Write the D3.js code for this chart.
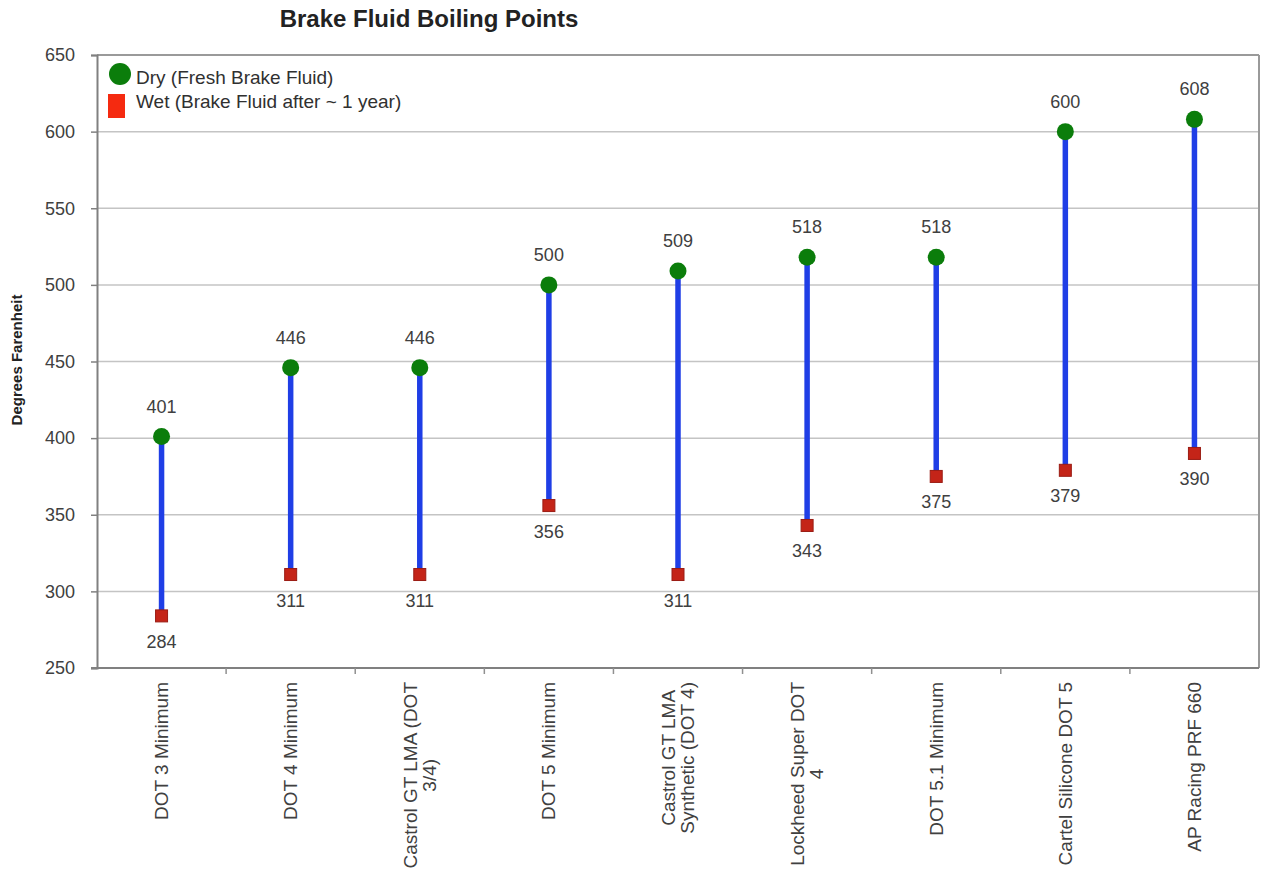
<!DOCTYPE html>
<html><head><meta charset="utf-8">
<script src="https://cdn.jsdelivr.net/npm/d3@7"></script>
<style>body{margin:0;background:#fff;} text{font-family:"Liberation Sans",Arial,sans-serif;}</style>
</head><body>
<svg id="chart" width="1261" height="873"></svg>
<script>
const categories = [
  ["DOT 3 Minimum"],
  ["DOT 4 Minimum"],
  ["Castrol GT LMA (DOT", "3/4)"],
  ["DOT 5 Minimum"],
  ["Castrol GT LMA", "Synthetic (DOT 4)"],
  ["Lockheed Super DOT", "4"],
  ["DOT 5.1 Minimum"],
  ["Cartel Silicone DOT 5"],
  ["AP Racing PRF 660"]
];
const dryValues = [401, 446, 446, 500, 509, 518, 518, 600, 608];
const wetValues = [284, 311, 311, 356, 311, 343, 375, 379, 390];
const yTicks = [250, 300, 350, 400, 450, 500, 550, 600, 650];
const titleText = "Brake Fluid Boiling Points";
const yLabel = "Degrees Farenheit";
const legendLabels = ["Dry (Fresh Brake Fluid)", "Wet (Brake Fluid after ~ 1 year)"];

const svg = d3.select("#chart");
const L = 97, R = 1259, T = 55, B = 668;
const keys = categories.map((c, i) => i);
const x = d3.scaleBand().domain(keys).range([L, R]).padding(0);
const y = d3.scaleLinear().domain([250, 650]).range([B, T]);

// grid
svg.append("g").selectAll("line").data(yTicks.filter(t => t > 250 && t < 650)).join("line")
  .attr("x1", L).attr("x2", R).attr("y1", d => y(d)).attr("y2", d => y(d))
  .attr("stroke", "#c4c4c4").attr("stroke-width", 1.5);

// frame top and right
svg.append("line").attr("x1", L).attr("x2", R).attr("y1", T).attr("y2", T).attr("stroke", "#9a9a9a").attr("stroke-width", 2);
svg.append("line").attr("x1", R).attr("x2", R).attr("y1", T).attr("y2", B).attr("stroke", "#9a9a9a").attr("stroke-width", 2);

// y axis
const yAxis = d3.axisLeft(y).tickValues(yTicks).tickSize(6).tickPadding(16).tickFormat(d3.format("d"));
const gy = svg.append("g").attr("transform", `translate(${L},0)`).call(yAxis);
gy.select(".domain").attr("stroke", "#808080").attr("stroke-width", 2);
gy.selectAll(".tick line").attr("stroke", "#808080").attr("stroke-width", 1.5);
gy.selectAll(".tick text").attr("font-size", 18).attr("fill", "#404040")
  .attr("font-family", "Liberation Sans, Arial, sans-serif");

// x axis (ticks at band boundaries)
svg.append("line").attr("x1", L - 6).attr("x2", R).attr("y1", B).attr("y2", B).attr("stroke", "#808080").attr("stroke-width", 2);
const bounds = keys.slice(1).map(k => x(k));
svg.append("g").selectAll("line").data(bounds).join("line")
  .attr("x1", d => d).attr("x2", d => d).attr("y1", B).attr("y2", B + 6)
  .attr("stroke", "#909090").attr("stroke-width", 1.5);

// x labels
const labG = svg.append("g").selectAll("g").data(categories).join("g")
  .attr("transform", (d, i) => `translate(${x(i) + x.bandwidth() / 2},682) rotate(-90)`);
labG.each(function (lines) {
  const g = d3.select(this);
  const ts = lines.map((ln, j) => g.append("text").text(ln)
    .attr("font-size", 19).attr("fill", "#404040")
    .attr("text-anchor", "middle").attr("dominant-baseline", "central")
    .attr("y", (j - (lines.length - 1) / 2) * 19.5));
  const maxLen = d3.max(ts, t => t.node().getComputedTextLength());
  ts.forEach(t => t.attr("x", -maxLen / 2));
});

// connecting lines
svg.append("g").selectAll("line").data(keys).join("line")
  .attr("x1", i => x(i) + x.bandwidth() / 2).attr("x2", i => x(i) + x.bandwidth() / 2)
  .attr("y1", i => y(dryValues[i])).attr("y2", i => y(wetValues[i]))
  .attr("stroke", "#1f3ee6").attr("stroke-width", 5.5);

// wet squares
const sq = 12;
svg.append("g").selectAll("rect").data(keys).join("rect")
  .attr("x", i => x(i) + x.bandwidth() / 2 - sq / 2).attr("y", i => y(wetValues[i]) - sq / 2)
  .attr("width", sq).attr("height", sq)
  .attr("fill", "#c42418").attr("stroke", "#9a1c14").attr("stroke-width", 1);

// dry circles
svg.append("g").selectAll("circle").data(keys).join("circle")
  .attr("cx", i => x(i) + x.bandwidth() / 2).attr("cy", i => y(dryValues[i]))
  .attr("r", 8.5).attr("fill", "#0b7d0b");

// data labels
svg.append("g").selectAll("text").data(keys).join("text")
  .attr("x", i => x(i) + x.bandwidth() / 2).attr("y", i => y(dryValues[i]) - 24)
  .attr("text-anchor", "middle").attr("font-size", 18).attr("fill", "#404040")
  .text(i => dryValues[i]);
svg.append("g").selectAll("text").data(keys).join("text")
  .attr("x", i => x(i) + x.bandwidth() / 2).attr("y", i => y(wetValues[i]) + 32)
  .attr("text-anchor", "middle").attr("font-size", 18).attr("fill", "#404040")
  .text(i => wetValues[i]);

// legend
svg.append("circle").attr("cx", 120).attr("cy", 74).attr("r", 11).attr("fill", "#0b7d0b");
svg.append("rect").attr("x", 108).attr("y", 94).attr("width", 17).attr("height", 24).attr("fill", "#f52a10");
svg.append("text").attr("x", 136).attr("y", 84).attr("font-size", 19).attr("fill", "#303030").text(legendLabels[0]);
svg.append("text").attr("x", 136).attr("y", 108).attr("font-size", 19).attr("fill", "#303030").text(legendLabels[1]);

// title
svg.append("text").attr("x", 429).attr("y", 27).attr("text-anchor", "middle")
  .attr("font-size", 24).attr("font-weight", "bold").attr("fill", "#222").text(titleText);

// y label
svg.append("text").attr("transform", "translate(22,360) rotate(-90)").attr("text-anchor", "middle")
  .attr("font-size", 15).attr("font-weight", "bold").attr("fill", "#222").text(yLabel);
</script>
</body></html>
